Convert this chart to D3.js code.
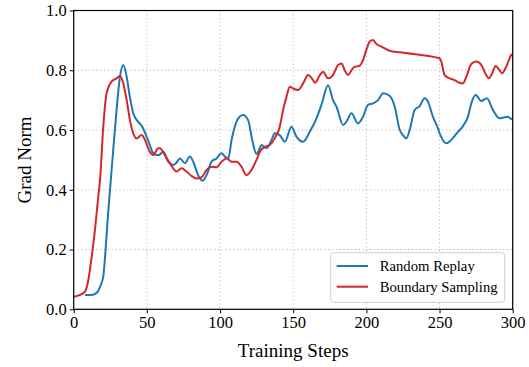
<!DOCTYPE html>
<html>
<head>
<meta charset="utf-8">
<script src="https://cdn.jsdelivr.net/npm/d3@7"></script>
<style>
body { margin: 0; background: #fff; }
text { font-family: "Liberation Serif", "Times New Roman", serif; fill: #000; }
</style>
</head>
<body>
<svg id="chart" width="529" height="367"></svg>
<script>
var seriesNames = ["Random Replay", "Boundary Sampling"]
var seriesColors = ["#1f77b4", "#d62728"]
var xTicks = [0, 50, 100, 150, 200, 250, 300]
var yTicks = [0, 0.2, 0.4, 0.6, 0.8, 1.0]

var randomSteps = [7.7, 12, 15.7, 18, 20.2, 21.8, 23.2, 24.8, 27, 29.3, 31.6, 33.9, 36.2, 38.4, 40.7, 43, 45.5, 47.5, 50, 52, 54, 56.7, 58, 61.2, 64.6, 68, 70, 72.6, 76, 79.4, 81.7, 85, 88, 90.8, 94.2, 97.6, 101, 103.3, 105.6, 107.9, 111.3, 113.5, 115.8, 119.2, 122, 124.9, 127.2, 128.3, 131.8, 135.2, 137.4, 140.8, 144.3, 148.8, 152.2, 156.8, 161.3, 165.9, 169.3, 173.8, 177.2, 179.6, 184.1, 186.4, 189.8, 194.3, 197.7, 201.1, 204.5, 208, 211.4, 216, 219.4, 222.8, 225, 227.3, 229.6, 233, 236.4, 239.8, 242.1, 245.5, 248.9, 250.1, 254.7, 258, 262.6, 266, 269.4, 271.7, 274.7, 278.5, 282.4, 286.5, 291, 294.4, 296.7, 299, 300]
var randomValues = [0.048, 0.048, 0.055, 0.075, 0.11, 0.2, 0.30, 0.40, 0.533, 0.667, 0.778, 0.818, 0.778, 0.71, 0.656, 0.634, 0.62, 0.605, 0.575, 0.55, 0.525, 0.516, 0.516, 0.527, 0.494, 0.483, 0.49, 0.505, 0.489, 0.511, 0.494, 0.449, 0.43, 0.449, 0.494, 0.505, 0.522, 0.511, 0.505, 0.567, 0.628, 0.645, 0.650, 0.633, 0.567, 0.52, 0.539, 0.55, 0.539, 0.567, 0.589, 0.583, 0.561, 0.611, 0.578, 0.561, 0.594, 0.639, 0.684, 0.75, 0.70, 0.678, 0.617, 0.628, 0.656, 0.622, 0.644, 0.684, 0.689, 0.70, 0.723, 0.714, 0.678, 0.60, 0.583, 0.572, 0.60, 0.667, 0.68, 0.706, 0.695, 0.644, 0.606, 0.589, 0.556, 0.567, 0.594, 0.613, 0.644, 0.689, 0.717, 0.697, 0.706, 0.667, 0.639, 0.643, 0.644, 0.637, 0.635]

var boundarySteps = [0, 4.3, 7.7, 10, 12.3, 14.5, 16.8, 18, 20.2, 22.5, 25.9, 29.3, 31.6, 33.9, 36.2, 38.4, 40.7, 43, 46.4, 48.7, 52, 54.3, 57.8, 58.9, 62.3, 65.7, 70.3, 73.7, 77.1, 80.6, 84, 87.4, 90.8, 94.2, 97.6, 101, 104.5, 107.9, 111.3, 114.7, 118.1, 121.5, 124.9, 127.2, 130.6, 134, 137.4, 140.8, 143.1, 145.4, 147.7, 149.9, 153.3, 156.8, 160.2, 163.6, 165, 168.2, 170.4, 173.8, 177.2, 180.7, 183, 185.2, 187.5, 189.8, 192, 195, 197.7, 200, 202.3, 204.5, 206.9, 210.3, 216, 222.8, 250.1, 251.2, 253.5, 256.9, 260.3, 263.7, 266, 268.3, 271.7, 275.1, 278.5, 281.9, 283.7, 286, 288.3, 291, 292.8, 295.6, 299, 300]
var boundaryValues = [0.042, 0.048, 0.059, 0.098, 0.176, 0.265, 0.377, 0.433, 0.611, 0.723, 0.762, 0.773, 0.781, 0.756, 0.70, 0.634, 0.589, 0.572, 0.583, 0.567, 0.527, 0.516, 0.539, 0.539, 0.516, 0.489, 0.461, 0.472, 0.461, 0.446, 0.438, 0.442, 0.466, 0.477, 0.475, 0.494, 0.505, 0.494, 0.494, 0.477, 0.449, 0.466, 0.50, 0.527, 0.544, 0.55, 0.572, 0.611, 0.667, 0.711, 0.745, 0.739, 0.734, 0.756, 0.784, 0.767, 0.758, 0.784, 0.795, 0.773, 0.784, 0.818, 0.823, 0.80, 0.784, 0.80, 0.812, 0.814, 0.834, 0.868, 0.896, 0.901, 0.888, 0.879, 0.865, 0.86, 0.84, 0.829, 0.784, 0.773, 0.767, 0.758, 0.756, 0.778, 0.821, 0.829, 0.818, 0.784, 0.773, 0.79, 0.814, 0.80, 0.79, 0.812, 0.851, 0.855]

var svg = d3.select("#chart")
var pLeft = 73.7, pRight = 512.7, pTop = 10.5, pBottom = 309.3

var x = d3.scaleLinear().domain([0, 300]).range([pLeft, pRight])
var y = d3.scaleLinear().domain([0, 1]).range([pBottom, pTop])

// dotted grid
var grid = svg.append("g")
grid.selectAll("line.gx")
    .data(xTicks)
    .enter()
    .append("line")
    .attr("class", "gx")
    .attr("x1", function(d) { return x(d) })
    .attr("x2", function(d) { return x(d) })
    .attr("y1", pTop)
    .attr("y2", pBottom)
grid.selectAll("line.gy")
    .data(yTicks)
    .enter()
    .append("line")
    .attr("class", "gy")
    .attr("x1", pLeft)
    .attr("x2", pRight)
    .attr("y1", function(d) { return y(d) })
    .attr("y2", function(d) { return y(d) })
grid.selectAll("line")
    .attr("stroke", "#b8b8b8")
    .attr("stroke-width", 1)
    .attr("stroke-dasharray", "1.2,2.6")

// lines
var series = [
    { name: seriesNames[0], color: seriesColors[0], steps: randomSteps, values: randomValues },
    { name: seriesNames[1], color: seriesColors[1], steps: boundarySteps, values: boundaryValues }
]
var line = d3.line()
    .x(function(d) { return x(d[0]) })
    .y(function(d) { return y(d[1]) })
    .curve(d3.curveMonotoneX)

svg.append("defs").append("clipPath").attr("id", "clip")
    .append("rect").attr("x", pLeft).attr("y", pTop).attr("width", pRight - pLeft).attr("height", pBottom - pTop)

svg.append("g").attr("clip-path", "url(#clip)")
    .selectAll("path")
    .data(series)
    .enter()
    .append("path")
    .attr("fill", "none")
    .attr("stroke", function(d) { return d.color })
    .attr("stroke-width", 2)
    .attr("stroke-linejoin", "round")
    .attr("d", function(d) {
        return line(d.steps.map(function(s, i) { return [s, d.values[i]] }))
    })

// axes
svg.append("g")
    .attr("transform", "translate(0," + pBottom + ")")
    .call(d3.axisBottom(x).tickValues(xTicks).tickSize(4).tickPadding(3).tickFormat(d3.format("d")))
svg.append("g")
    .attr("transform", "translate(" + pLeft + ",0)")
    .call(d3.axisLeft(y).tickValues(yTicks).tickSize(4).tickPadding(3).tickFormat(d3.format(".1f")))
svg.selectAll(".domain").remove()
svg.selectAll(".tick line").attr("stroke", "#000").attr("stroke-width", 1)
svg.selectAll(".tick text")
    .style("font-family", "'Liberation Serif', serif")
    .style("font-size", "16.5px")
    .attr("fill", "#000")

svg.append("rect")
    .attr("x", pLeft)
    .attr("y", pTop)
    .attr("width", pRight - pLeft)
    .attr("height", pBottom - pTop)
    .attr("fill", "none")
    .attr("stroke", "#000")
    .attr("stroke-width", 1.2)

svg.append("text")
    .attr("x", (pLeft + pRight) / 2)
    .attr("y", 357)
    .attr("text-anchor", "middle")
    .style("font-size", "19px")
    .text("Training Steps")
svg.append("text")
    .attr("transform", "translate(31," + ((pTop + pBottom) / 2) + ") rotate(-90)")
    .attr("text-anchor", "middle")
    .style("font-size", "19px")
    .text("Grad Norm")

// legend
var legend = svg.append("g")
legend.append("rect")
    .attr("x", 330.7)
    .attr("y", 252.7)
    .attr("width", 174)
    .attr("height", 49.6)
    .attr("rx", 3)
    .attr("fill", "#fff")
    .attr("fill-opacity", 0.85)
    .attr("stroke", "#d0d0d0")
    .attr("stroke-width", 1)
var rows = legend.selectAll("g.row")
    .data(series)
    .enter()
    .append("g")
    .attr("transform", function(d, i) {
        return "translate(0," + (266 + i * 20.7) + ")"
    })
rows.append("line")
    .attr("x1", 336.7)
    .attr("x2", 368)
    .attr("stroke", function(d) { return d.color })
    .attr("stroke-width", 2)
rows.append("text")
    .attr("x", 379.7)
    .attr("y", 5)
    .style("font-size", "14.7px")
    .text(function(d) { return d.name })
</script>
</body>
</html>
